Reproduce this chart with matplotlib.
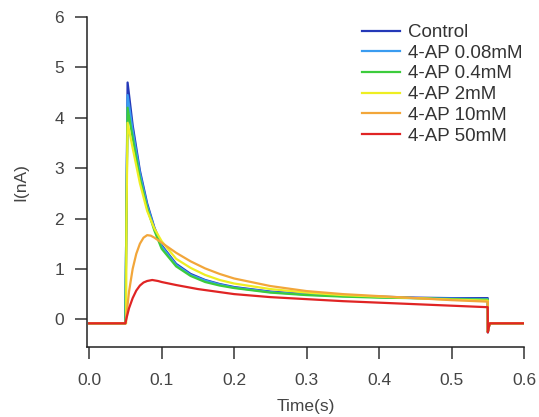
import matplotlib
matplotlib.use("Agg")
import matplotlib.pyplot as plt

plt.rcParams['font.family'] = ['Liberation Sans', 'DejaVu Sans']

labels = ["Control", "4-AP 0.08mM", "4-AP 0.4mM", "4-AP 2mM", "4-AP 10mM", "4-AP 50mM"]
colors = ["#2438b8", "#3a9cf0", "#3ccc3c", "#eeee22", "#f2a63a", "#e02424"]

# time points (s)
t_ctrl = [0.0, 0.050, 0.051, 0.053, 0.06, 0.07, 0.08, 0.09, 0.10, 0.12, 0.14, 0.16, 0.18, 0.20,
          0.25, 0.30, 0.35, 0.40, 0.45, 0.50, 0.55, 0.5501, 0.552, 0.553, 0.60]
i_ctrl = [-0.08, -0.08, 1.5, 4.70, 3.85, 2.95, 2.30, 1.82, 1.47, 1.10, 0.90, 0.78, 0.70, 0.64,
          0.55, 0.50, 0.47, 0.45, 0.43, 0.42, 0.42, -0.26, -0.12, -0.08, -0.08]

t_008 = [0.0, 0.050, 0.051, 0.053, 0.06, 0.07, 0.08, 0.09, 0.10, 0.12, 0.14, 0.16, 0.18, 0.20,
         0.25, 0.30, 0.35, 0.40, 0.45, 0.50, 0.55, 0.5501, 0.552, 0.553, 0.60]
i_008 = [-0.08, -0.08, 1.5, 4.45, 3.75, 2.90, 2.26, 1.80, 1.45, 1.08, 0.88, 0.77, 0.69, 0.63,
         0.54, 0.49, 0.46, 0.44, 0.42, 0.41, 0.40, -0.25, -0.12, -0.08, -0.08]

t_04 = [0.0, 0.050, 0.051, 0.053, 0.06, 0.07, 0.08, 0.09, 0.10, 0.12, 0.14, 0.16, 0.18, 0.20,
        0.25, 0.30, 0.35, 0.40, 0.45, 0.50, 0.55, 0.5501, 0.552, 0.553, 0.60]
i_04 = [-0.08, -0.08, 1.5, 4.20, 3.60, 2.80, 2.20, 1.76, 1.40, 1.05, 0.86, 0.74, 0.67, 0.62,
        0.53, 0.48, 0.45, 0.43, 0.42, 0.40, 0.39, -0.25, -0.12, -0.08, -0.08]

t_2 = [0.0, 0.051, 0.0515, 0.053, 0.06, 0.07, 0.08, 0.09, 0.10, 0.12, 0.14, 0.16, 0.18, 0.20,
       0.25, 0.30, 0.35, 0.40, 0.45, 0.50, 0.55, 0.5501, 0.552, 0.553, 0.60]
i_2 = [-0.08, -0.08, 2.0, 3.90, 3.40, 2.70, 2.15, 1.80, 1.55, 1.20, 1.02, 0.88, 0.78, 0.71,
       0.60, 0.53, 0.48, 0.45, 0.42, 0.39, 0.37, -0.25, -0.12, -0.08, -0.08]

t_10 = [0.0, 0.050, 0.052, 0.055, 0.06, 0.065, 0.07, 0.075, 0.08, 0.085, 0.09, 0.10, 0.12, 0.14,
        0.16, 0.18, 0.20, 0.25, 0.30, 0.35, 0.40, 0.45, 0.50, 0.55, 0.5501, 0.552, 0.553, 0.60]
i_10 = [-0.08, -0.08, 0.15, 0.55, 1.00, 1.30, 1.50, 1.62, 1.67, 1.66, 1.62, 1.52, 1.32, 1.15,
        1.01, 0.90, 0.81, 0.66, 0.56, 0.50, 0.46, 0.42, 0.38, 0.35, -0.25, -0.12, -0.08, -0.08]

t_50 = [0.0, 0.050, 0.052, 0.055, 0.06, 0.065, 0.07, 0.075, 0.08, 0.087, 0.095, 0.10, 0.12, 0.15,
        0.20, 0.25, 0.30, 0.35, 0.40, 0.45, 0.50, 0.55, 0.5501, 0.552, 0.553, 0.60]
i_50 = [-0.08, -0.08, 0.05, 0.22, 0.42, 0.57, 0.67, 0.73, 0.76, 0.78, 0.76, 0.74, 0.68, 0.60,
        0.50, 0.44, 0.40, 0.36, 0.33, 0.30, 0.27, 0.24, -0.26, -0.12, -0.08, -0.08]

series_t = [t_ctrl, t_008, t_04, t_2, t_10, t_50]
series_i = [i_ctrl, i_008, i_04, i_2, i_10, i_50]

xticks = [0.0, 0.1, 0.2, 0.3, 0.4, 0.5, 0.6]
yticks = [0, 1, 2, 3, 4, 5, 6]

W, H = 539, 417
fig = plt.figure(figsize=(W / 100, H / 100), dpi=100)
ax = fig.add_axes([87 / W, 1 - 347 / H, (524 - 87) / W, (347 - 17) / H])

for t, v, c, lab in zip(series_t, series_i, colors, labels):
    ax.plot(t, v, color=c, lw=1.6, label=lab)

ax.set_xlim(-0.003, 0.6)
ax.set_ylim(-0.55, 6)
ax.set_xticks(xticks)
ax.set_xticklabels([f"{x:.1f}" for x in xticks])
ax.set_yticks(yticks)
ax.spines['top'].set_visible(False)
ax.spines['right'].set_visible(False)
for s in ['left', 'bottom']:
    ax.spines[s].set_color('#222222')
    ax.spines[s].set_linewidth(1.1)
ax.tick_params(direction='out', length=8.5, width=1.1, colors='#333333',
               labelsize=12.5, labelcolor='#444444')
ax.tick_params(axis='x', pad=10)
ax.tick_params(axis='y', pad=8)
ax.set_xlabel("Time(s)", fontsize=12.5, color='#444444', labelpad=8)
ax.set_ylabel("I(nA)", fontsize=12.5, color='#444444', labelpad=19)

leg = ax.legend(loc='upper left', bbox_to_anchor=(362 / W, 1 - 24 / H),
                bbox_transform=fig.transFigure, frameon=False,
                fontsize=13.5, handlelength=2.0, handletextpad=0.45,
                labelspacing=0.19, borderpad=0, borderaxespad=0)
for txt in leg.get_texts():
    txt.set_color('#333333')

fig.savefig("out.png", dpi=100)
